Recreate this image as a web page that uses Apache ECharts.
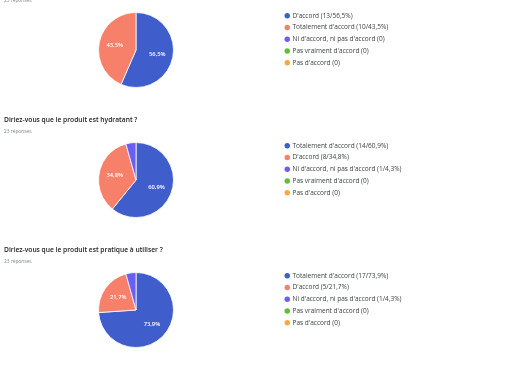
<!DOCTYPE html>
<html><head><meta charset="utf-8">
<script src="https://cdn.jsdelivr.net/npm/echarts@6/dist/echarts.min.js"></script>
<style>html,body{margin:0;padding:0;background:#fff}#c{width:512px;height:370px}</style>
</head><body><div id="c"></div>
<script>
const questions = ["", "Diriez-vous que le produit est hydratant ?", "Diriez-vous que le produit est pratique à utiliser ?"];
const responses = ["23 réponses", "23 réponses", "23 réponses"];
const cats1 = ["D'accord", "Totalement d'accord", "Ni d'accord, ni pas d'accord", "Pas vraiment d'accord", "Pas d'accord"];
const vals1 = [13, 10, 0, 0, 0];
const cats2 = ["Totalement d'accord", "D'accord", "Ni d'accord, ni pas d'accord", "Pas vraiment d'accord", "Pas d'accord"];
const vals2 = [14, 8, 1, 0, 0];
const cats3 = ["Totalement d'accord", "D'accord", "Ni d'accord, ni pas d'accord", "Pas vraiment d'accord", "Pas d'accord"];
const vals3 = [17, 5, 1, 0, 0];
const colors = ['#3f5ecb', '#f7806a', '#6a5ff3', '#5cc234', '#f9a93b'];

const FONT = "'Open Sans', sans-serif";
const pies = [[cats1, vals1], [cats2, vals2], [cats3, vals3]];
const centersY = [50, 180, 310];
const legendTops = [11.8, 141.8, 271.8];
const qTops = [-100, 116.3, 246.3];
const rTops = [-1.5, 129, 259];

function pct(v, tot) { return (v / tot * 100).toFixed(1).replace('.', ','); }

const series = [], legends = [], titles = [];
pies.forEach(([cats, vals], i) => {
  const tot = vals.reduce((a, b) => a + b, 0);
  const data = cats.map((c, j) => ({
    name: vals[j] ? `${c} (${vals[j]}/${pct(vals[j], tot)}%)` : `${c} (0)`,
    value: vals[j],
    itemStyle: { color: colors[j], borderColor: '#fff', borderWidth: vals[j] ? 0.8 : 0 }
  }));
  series.push({
    type: 'pie', radius: 37.5, center: [136, centersY[i]],
    startAngle: 90, clockwise: true, silent: true,
    label: { position: 'inside', color: '#fff', fontSize: 5.8, fontWeight: 600, fontFamily: FONT,
      formatter: p => (p.value / tot >= 0.05) ? pct(p.value, tot) + '%' : '' },
    labelLine: { show: false },
    emphasis: { disabled: true },
    data
  });
  legends.push({
    orient: 'vertical', left: 284.5, top: legendTops[i], padding: 0,
    selectedMode: false, icon: 'circle', itemWidth: 5.5, itemHeight: 5.5, itemGap: 3.75,
    itemStyle: { borderWidth: 0 },
    textStyle: { fontSize: 6.5, lineHeight: 8, color: '#3c4043', fontFamily: FONT, padding: [0, 0, 0, -2.5] },
    data: data.map(d => d.name)
  });
  if (questions[i]) titles.push({ text: questions[i], left: 4, top: qTops[i], padding: 0,
    textStyle: { fontSize: 6.7, fontWeight: 600, color: '#202124', fontFamily: FONT } });
  titles.push({ text: responses[i], left: 4, top: rTops[i], padding: 0,
    textStyle: { fontSize: 4.8, fontWeight: 'normal', color: '#80868b', fontFamily: FONT } });
});

const chart = echarts.init(document.getElementById('c'), null, { renderer: 'canvas' });
chart.setOption({ animation: false, backgroundColor: '#fff', title: titles, legend: legends, series });
</script></body></html>
